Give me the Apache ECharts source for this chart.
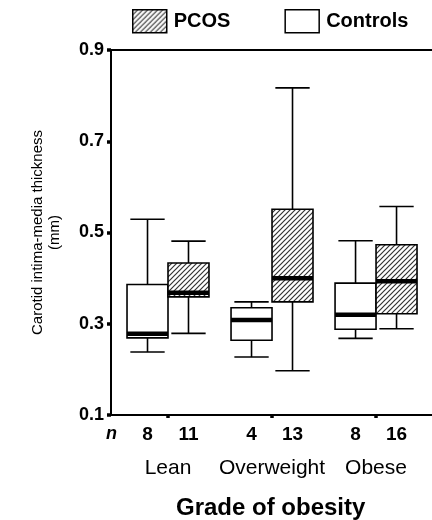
<!DOCTYPE html>
<html>
<head>
<meta charset="utf-8">
<script src="https://cdn.jsdelivr.net/npm/echarts@6/dist/echarts.min.js"></script>
<style>html,body{margin:0;padding:0;background:#fff;}#c{width:432px;height:520px;}</style>
</head>
<body>
<div id="c"></div>
<script>
// ---- data ----
const categories = ['Lean', 'Overweight', 'Obese'];
// [min, Q1, median, Q3, max]
const controlsBoxes = [
  [0.238, 0.269, 0.278, 0.386, 0.529],
  [0.227, 0.264, 0.308, 0.335, 0.348],
  [0.268, 0.288, 0.320, 0.389, 0.482]
];
const pcosBoxes = [
  [0.279, 0.359, 0.368, 0.433, 0.481],
  [0.197, 0.348, 0.400, 0.551, 0.817],
  [0.289, 0.322, 0.393, 0.473, 0.557]
];
const controlsN = [8, 4, 8];
const pcosN = [11, 13, 16];
const yTicks = [0.1, 0.3, 0.5, 0.7, 0.9];

// ---- hatch pattern ----
function makeHatch() {
  const s = 5;
  const cv = document.createElement('canvas');
  cv.width = s; cv.height = s;
  const ctx = cv.getContext('2d');
  ctx.fillStyle = '#fff';
  ctx.fillRect(0, 0, s, s);
  ctx.strokeStyle = '#333';
  ctx.lineWidth = 1.2;
  ctx.beginPath();
  ctx.moveTo(-1, s + 1); ctx.lineTo(s + 1, -1);
  ctx.moveTo(-1, 1); ctx.lineTo(1, -1);
  ctx.moveTo(s - 1, s + 1); ctx.lineTo(s + 1, s - 1);
  ctx.stroke();
  return { image: cv, repeat: 'repeat' };
}
const hatch = makeHatch();

const BOX_W = 0.394; // in x-axis units
const CAP_W = 0.33;

function toData(boxes, side) {
  return boxes.map((b, i) => [i + 1, side].concat(b));
}

function renderBox(fill) {
  return function (params, api) {
    const x = api.value(0), side = api.value(1);
    const lo = api.coord([x, api.value(2)]);
    const q1 = api.coord([x, api.value(3)]);
    const md = api.coord([x, api.value(4)]);
    const q3 = api.coord([x, api.value(5)]);
    const hi = api.coord([x, api.value(6)]);
    const w = api.size([BOX_W, 0])[0];
    const cw = api.size([CAP_W, 0])[0];
    const left = side < 0 ? lo[0] - w : lo[0];
    const cx = left + w / 2;
    const line = { stroke: '#000', lineWidth: 1.6 };
    return {
      type: 'group',
      children: [
        { type: 'line', shape: { x1: cx, y1: hi[1], x2: cx, y2: q3[1] }, style: line },
        { type: 'line', shape: { x1: cx - cw / 2, y1: hi[1], x2: cx + cw / 2, y2: hi[1] }, style: line },
        { type: 'line', shape: { x1: cx, y1: q1[1], x2: cx, y2: lo[1] }, style: line },
        { type: 'line', shape: { x1: cx - cw / 2, y1: lo[1], x2: cx + cw / 2, y2: lo[1] }, style: line },
        { type: 'rect', shape: { x: left, y: q3[1], width: w, height: q1[1] - q3[1] },
          style: { fill: fill, stroke: '#000', lineWidth: 1.6 } },
        { type: 'line', shape: { x1: left, y1: md[1], x2: left + w, y2: md[1] },
          style: { stroke: '#000', lineWidth: 4.5 } }
      ]
    };
  };
}

const chart = echarts.init(document.getElementById('c'), null, { renderer: 'canvas' });
const FONT = 'Liberation Sans, Arial, Helvetica, sans-serif';

chart.setOption({
  animation: false,
  backgroundColor: '#fff',
  textStyle: { fontFamily: FONT },
  legend: {
    top: 9, left: 132, padding: 0,
    icon: 'rect',
    itemWidth: 34, itemHeight: 23, itemGap: 54,
    textStyle: { fontFamily: FONT, fontWeight: 'bold', fontSize: 20, color: '#000', padding: [0, 0, 0, 2] },
    data: [
      { name: 'PCOS', itemStyle: { color: hatch, borderColor: '#000', borderWidth: 1.5 } },
      { name: 'Controls', itemStyle: { color: '#fff', borderColor: '#000', borderWidth: 1.5 } }
    ]
  },
  grid: { left: 111, right: 0, top: 50, bottom: 105 },
  xAxis: [{
    type: 'value', min: 0.452, max: 3.538,
    splitLine: { show: false },
    axisLine: { show: true, onZero: false, lineStyle: { color: '#000', width: 2 } },
    axisTick: { show: true, customValues: [1, 2, 3], length: 3, lineStyle: { color: '#000', width: 3.5 } },
    axisLabel: {
      customValues: [1, 2, 3],
      margin: 9,
      formatter: function (v) {
        const i = Math.round(v) - 1;
        return '{a|' + controlsN[i] + '}{b|' + pcosN[i] + '}\n{c|' + categories[i] + '}';
      },
      rich: {
        a: { fontFamily: FONT, fontWeight: 'bold', fontSize: 19, color: '#000', width: 41, align: 'center', lineHeight: 21 },
        b: { fontFamily: FONT, fontWeight: 'bold', fontSize: 19, color: '#000', width: 41, align: 'center', lineHeight: 21 },
        c: { fontFamily: FONT, fontSize: 21, color: '#000', lineHeight: 46, align: 'center' }
      }
    }
  }, {
    type: 'value', position: 'top', min: 0.452, max: 3.538,
    splitLine: { show: false },
    axisLine: { show: true, onZero: false, lineStyle: { color: '#000', width: 2 } },
    axisTick: { show: false }, axisLabel: { show: false }
  }],
  yAxis: {
    type: 'value', min: 0.1, max: 0.9,
    name: 'Carotid intima-media thickness\n(mm)',
    nameLocation: 'middle', nameGap: 48,
    nameTextStyle: { fontFamily: FONT, fontSize: 15, color: '#000', lineHeight: 17 },
    splitLine: { show: false },
    axisLine: { show: true, onZero: false, lineStyle: { color: '#000', width: 2 } },
    axisTick: { show: true, customValues: yTicks, length: 4, lineStyle: { color: '#000', width: 3.5 } },
    axisLabel: {
      customValues: yTicks, margin: 7,
      fontFamily: FONT, fontWeight: 'bold', fontSize: 18, color: '#000',
      formatter: v => v.toFixed(1)
    }
  },
  graphic: [
    { type: 'text', left: 106, top: 425,
      style: { text: 'n', fontFamily: FONT, fontStyle: 'italic', fontWeight: 'bold', fontSize: 18, fill: '#000' } },
    { type: 'text', left: 176, top: 496,
      style: { text: 'Grade of obesity', fontFamily: FONT, fontWeight: 'bold', fontSize: 24, fill: '#000' } }
  ],
  series: [
    { name: 'Controls', type: 'custom', renderItem: renderBox('#fff'), data: toData(controlsBoxes, -1),
      itemStyle: { color: '#fff', borderColor: '#000' }, encode: { x: 0, y: [2, 3, 4, 5, 6] } },
    { name: 'PCOS', type: 'custom', renderItem: renderBox(hatch), data: toData(pcosBoxes, 1),
      itemStyle: { color: hatch, borderColor: '#000' }, encode: { x: 0, y: [2, 3, 4, 5, 6] } }
  ]
});
</script>
</body>
</html>
